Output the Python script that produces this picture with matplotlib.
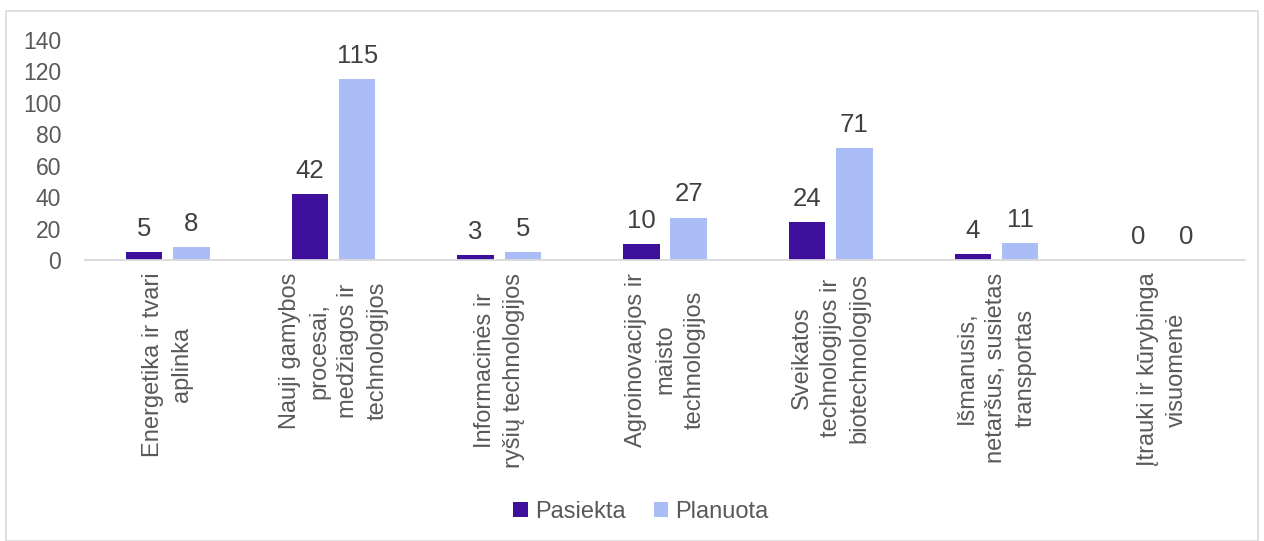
import matplotlib
matplotlib.use("Agg")
import matplotlib.pyplot as plt
import numpy as np
from matplotlib.patches import Rectangle

categories = [
    "Energetika ir tvari\naplinka",
    "Nauji gamybos\nprocesai,\nmedžiagos ir\ntechnologijos",
    "Informacinės ir\nryšių technologijos",
    "Agroinovacijos ir\nmaisto\ntechnologijos",
    "Sveikatos\ntechnologijos ir\nbiotechnologijos",
    "Išmanusis,\nnetaršus, susietas\ntransportas",
    "Įtrauki ir kūrybinga\nvisuomenė",
]
pasiekta = [5, 42, 3, 10, 24, 4, 0]
planuota = [8, 115, 5, 27, 71, 11, 0]
yticks = [0, 20, 40, 60, 80, 100, 120, 140]

TEXT = "#595959"
DARK = "#3D0F9B"
LIGHT = "#AABDF7"

plt.rcParams["font.family"] = ["Liberation Sans", "DejaVu Sans"]
plt.rcParams["font.size"] = 16

fig = plt.figure(figsize=(12.64, 5.41), dpi=100)
ax = fig.add_axes([0.0672, 0.5194, 0.9178, 0.4066])

x = np.arange(len(categories))
w = 0.22
off = 0.143
b1 = ax.bar(x - off, pasiekta, w, color=DARK, label="Pasiekta")
b2 = ax.bar(x + off, planuota, w, color=LIGHT, label="Planuota")

for bars, vals in ((b1, pasiekta), (b2, planuota)):
    for rect, v in zip(bars, vals):
        ax.annotate(str(v), (rect.get_x() + rect.get_width() / 2, v),
                    xytext=(0, 8), textcoords="offset points",
                    ha="center", va="bottom", color="#404040", fontsize=18.5)

ax.set_xlim(-0.5, len(categories) - 0.5)
ax.set_ylim(0, 140)
ax.set_yticks(yticks)
ax.set_xticks(x)
ax.set_xticklabels(categories, rotation=90, ha="center", va="top",
                   multialignment="center", color=TEXT, fontsize=17,
                   linespacing=1.42)
ax.tick_params(axis="both", length=0, colors=TEXT)
ax.tick_params(axis="y", labelsize=16.5, pad=17)
ax.tick_params(axis="x", pad=9)
for s in ("top", "right", "left"):
    ax.spines[s].set_visible(False)
ax.spines["bottom"].set_color("#D9D9D9")
ax.spines["bottom"].set_linewidth(1.3)

leg = fig.legend(handles=[b1, b2], loc="center", bbox_to_anchor=(0.507, 0.054),
                 ncol=2, frameon=False, handlelength=0.6, handleheight=0.6,
                 handletextpad=0.3, columnspacing=1.2, fontsize=17)
for t in leg.get_texts():
    t.set_color(TEXT)

fig.patches.append(Rectangle((6 / 1264, 0), 1252 / 1264, 1 - 11 / 541,
                             transform=fig.transFigure, fill=False,
                             edgecolor="#D9D9D9", linewidth=1.2))

fig.savefig("out.png", dpi=100)
